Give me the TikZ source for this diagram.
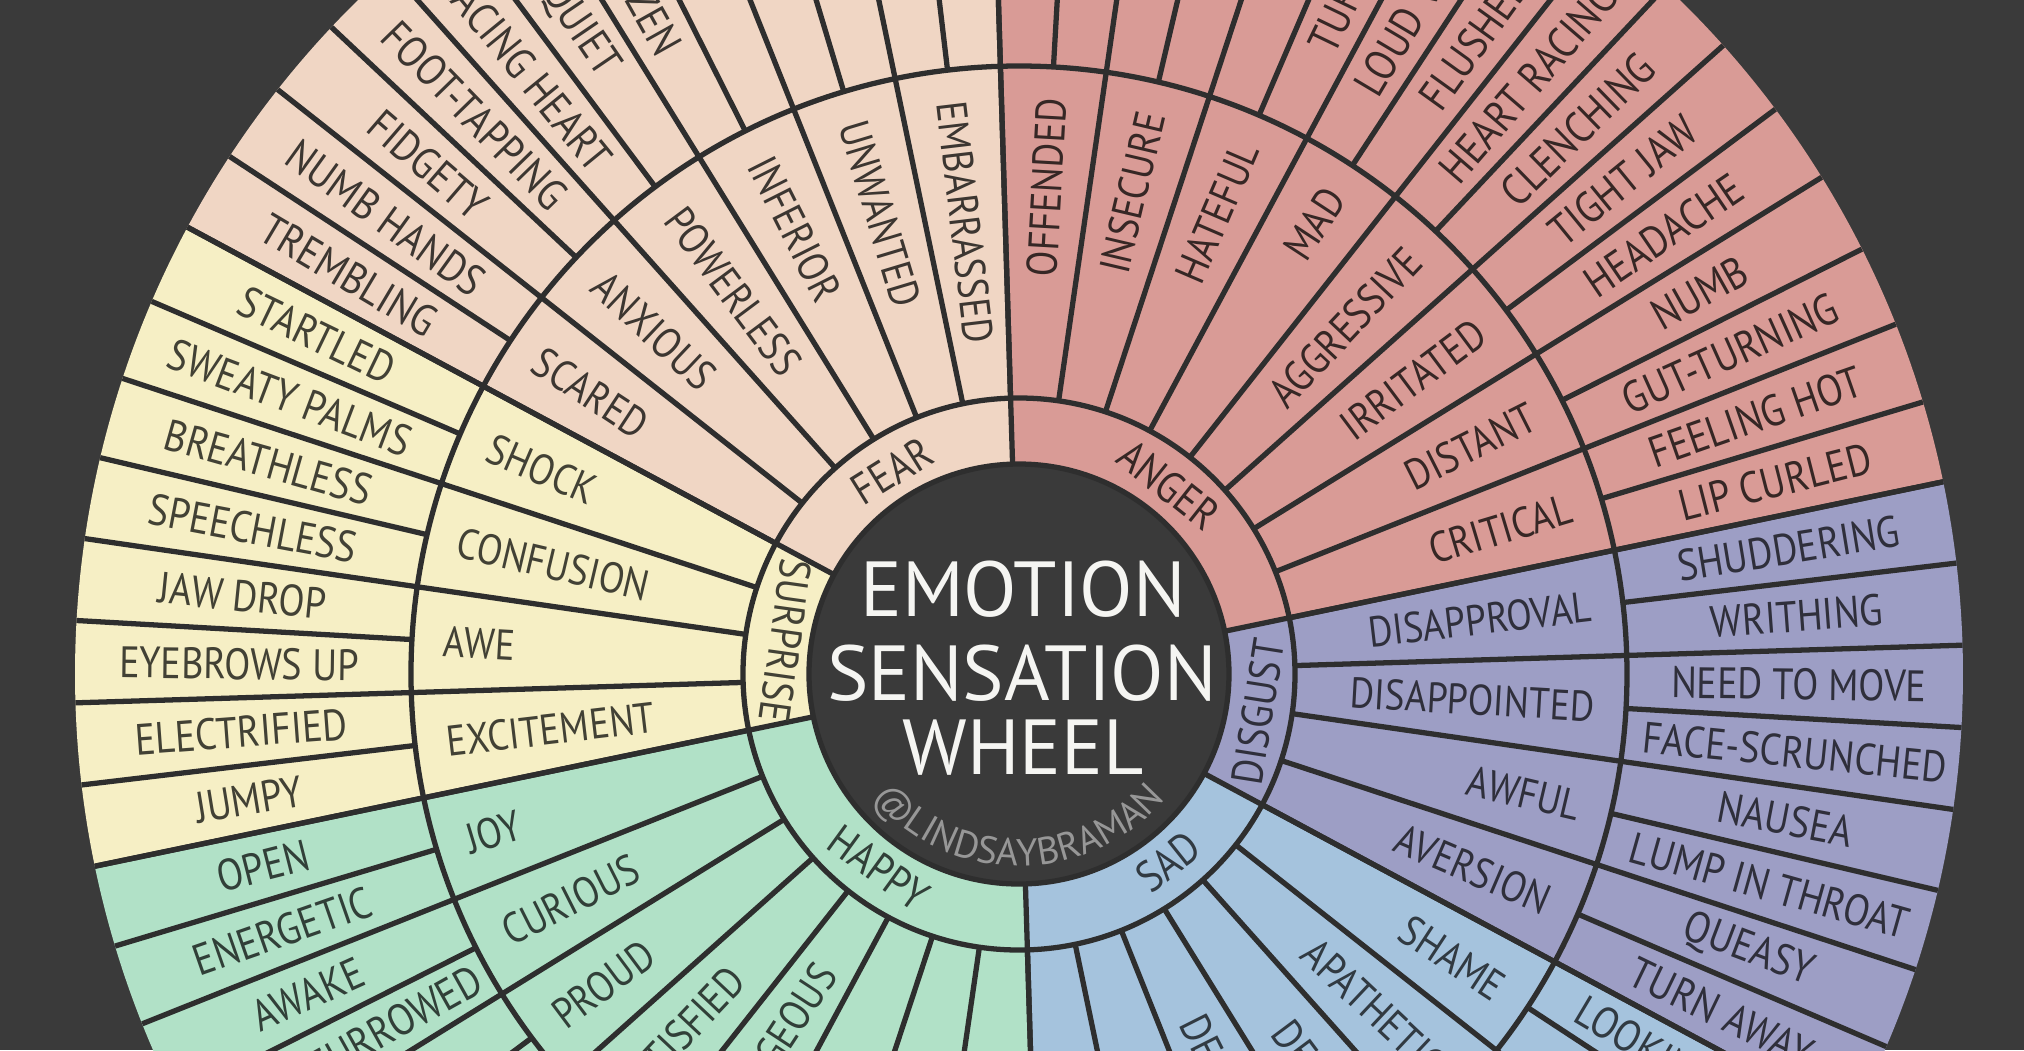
\documentclass[tikz,border=0pt]{standalone}
\usepackage{fontspec}
\setmainfont{PT Sans}
\newfontfamily\wheelfont[FakeStretch=0.87]{PT Sans}
\newfontfamily\titlefont{PT Sans}
\usetikzlibrary{decorations.text}
\definecolor{bgdark}{HTML}{3A3A3A}
\definecolor{linec}{HTML}{2E2E2E}
\definecolor{fearc}{HTML}{F0D6C4}
\definecolor{angerc}{HTML}{D99B96}
\definecolor{disgc}{HTML}{9D9EC5}
\definecolor{sadc}{HTML}{A5C3DD}
\definecolor{happyc}{HTML}{B1E1C7}
\definecolor{surpc}{HTML}{F6EFC5}
\definecolor{titlec}{HTML}{F5F5F2}
\definecolor{handlec}{HTML}{979797}
\colorlet{fearT}{fearc!25!black}
\colorlet{angerT}{angerc!25!black}
\colorlet{disgT}{disgc!30!black}
\colorlet{sadT}{sadc!30!black}
\colorlet{happyT}{happyc!28!black}
\colorlet{surpT}{surpc!27!black}
\tikzset{
  sep/.style={draw=linec, line width=1.5pt},
  otext/.style={inner sep=0pt, font=\wheelfont\fontsize{12.5}{13}\selectfont},
  stext/.style={inner sep=0pt, font=\wheelfont\fontsize{12.2}{13}\selectfont},
  ctext/.style={inner sep=0pt, font=\wheelfont\fontsize{12.5}{13}\selectfont},
  titletext/.style={inner sep=0pt, text=titlec, font=\titlefont\fontsize{22.2}{23}\selectfont},
}
% outer ring label: name, colour, angle, text
\newcommand\otxt[4]{%
  \pgfmathtruncatemacro\myside{cos(#3)>=0 ? 1 : 0}%
  \ifnum\myside=1 \pgfmathsetmacro\myrot{#3}\else\pgfmathsetmacro\myrot{#3-180}\fi
  \node[otext, text=#2, rotate=\myrot] (#1) at (#3:780) {#4};}
% secondary ring label: name, colour, angle, text (outer end at r=575)
\newcommand\stxt[4]{%
  \pgfmathtruncatemacro\myside{cos(#3)>=0 ? 1 : 0}%
  \ifnum\myside=1
    \node[stext, text=#2, rotate=#3, anchor=east] (#1) at (#3:577) {#4};
  \else
    \pgfmathsetmacro\myrot{#3-180}%
    \node[stext, text=#2, rotate=\myrot, anchor=west] (#1) at (#3:577) {#4};
  \fi}
\begin{document}
\begin{tikzpicture}[x=0.01cm,y=0.01cm]
\def\RA{210}\def\RB{276}\def\RC{608}\def\RD{944}
\fill[bgdark] (-1019,-376) rectangle (1005,674);
\useasboundingbox (-1019,-376) rectangle (1005,674);
\clip (-1019,-376) rectangle (1005,674);
% coloured sectors
\foreach \a/\b/\c in {11.75/91.75/angerc, 91.75/151.75/fearc, 151.75/191.75/surpc,
  191.75/271.75/happyc, 271.75/331.75/sadc, 331.75/371.75/disgc}{
  \fill[\c] (\a:\RA) -- (\a:\RD) arc[start angle=\a, end angle=\b, radius=\RD]
    -- (\b:\RA) arc[start angle=\b, end angle=\a, radius=\RA] -- cycle;
}
% rings
\draw[sep] (0,0) circle[radius=\RB];
\draw[sep] (0,0) circle[radius=\RC];
% outer-ring dividers
\foreach \k in {0,...,35}{
  \pgfmathsetmacro\ang{6.75+10*\k}
  \draw[sep] (\ang:\RC) -- (\ang:\RD);
}
% secondary dividers
\foreach \k in {0,...,35}{
  \pgfmathsetmacro\ang{1.75+10*\k}
  \draw[sep] (\ang:\RB) -- (\ang:\RD);
}
% core dividers
\foreach \a in {11.75,91.75,151.75,191.75,271.75,331.75}{
  \draw[sep] (\a:\RA) -- (\a:\RD);
}
% centre disc
\fill[bgdark] (0,0) circle[radius=\RA];
\draw[sep] (0,0) circle[radius=\RA];

% core labels
\node[ctext, text=fearT, rotate=32] (cfear) at (122:240) {FEAR};
\node[ctext, text=angerT, rotate=-38.4] (canger) at (51.6:241) {ANGER};
\node[ctext, text=disgT, rotate=81] (cdisg) at (-9:242) {DISGUST};
\node[ctext, text=sadT, rotate=38.5] (csad) at (-51.5:240) {SAD};
\node[ctext, text=happyT, rotate=-36] (chappy) at (234:239) {HAPPY};
\node[ctext, text=surpT, rotate=-98] (csurp) at (172:236) {SURPRISE};

% secondary labels
\stxt{s1}{fearT}{96.75}{EMBARRASSED}
\stxt{s2}{fearT}{106.75}{UNWANTED}
\stxt{s3}{fearT}{116.75}{INFERIOR}
\stxt{s4}{fearT}{126.75}{POWERLESS}
\stxt{s5}{fearT}{136.75}{ANXIOUS}
\stxt{s6}{fearT}{146.75}{SCARED}
\stxt{s7}{surpT}{156.75}{SHOCK}
\stxt{s8}{surpT}{166.75}{CONFUSION}
\stxt{s9}{surpT}{176.75}{AWE}
\stxt{s10}{surpT}{186.75}{EXCITEMENT}
\stxt{s11}{happyT}{196.75}{JOY}
\stxt{s12}{happyT}{206.75}{CURIOUS}
\stxt{s13}{happyT}{216.75}{PROUD}
\stxt{s14}{happyT}{226.75}{SATISFIED}
\stxt{s15}{happyT}{236.75}{COURAGEOUS}
\stxt{s16}{sadT}{296.75}{DEPRESSED}
\stxt{s17}{sadT}{306.75}{DESPAIR}
\stxt{s18}{sadT}{316.75}{APATHETIC}
\stxt{s19}{sadT}{326.75}{SHAME}
\stxt{s20}{disgT}{336.75}{AVERSION}
\stxt{s21}{disgT}{346.75}{AWFUL}
\stxt{s22}{disgT}{356.75}{DISAPPOINTED}
\stxt{s23}{disgT}{6.75}{DISAPPROVAL}
\stxt{s24}{angerT}{16.75}{CRITICAL}
\stxt{s25}{angerT}{26.75}{DISTANT}
\stxt{s26}{angerT}{36.75}{IRRITATED}
\stxt{s27}{angerT}{46.75}{AGGRESSIVE}
\stxt{s28}{angerT}{56.75}{MAD}
\stxt{s29}{angerT}{66.75}{HATEFUL}
\stxt{s30}{angerT}{76.75}{INSECURE}
\stxt{s31}{angerT}{86.75}{OFFENDED}

% outer labels
\otxt{o1}{disgT}{9.25}{SHUDDERING}
\otxt{o2}{disgT}{4.25}{WRITHING}
\otxt{o3}{disgT}{-0.75}{NEED TO MOVE}
\otxt{o4}{disgT}{-5.75}{FACE-SCRUNCHED}
\otxt{o5}{disgT}{-10.75}{NAUSEA}
\otxt{o6}{disgT}{-15.75}{LUMP IN THROAT}
\otxt{o7}{disgT}{-20.75}{QUEASY}
\otxt{o8}{disgT}{-25.75}{TURN AWAY}
\otxt{o9}{sadT}{-30.75}{LOOKING AWAY}
\otxt{o10}{angerT}{14.25}{LIP CURLED}
\otxt{o11}{angerT}{19.25}{FEELING HOT}
\otxt{o12}{angerT}{24.25}{GUT-TURNING}
\otxt{o13}{angerT}{29.25}{NUMB}
\otxt{o14}{angerT}{34.25}{HEADACHE}
\otxt{o15}{angerT}{39.25}{TIGHT JAW}
\otxt{o16}{angerT}{44.25}{CLENCHING}
\otxt{o17}{angerT}{49.25}{HEART RACING}
\otxt{o18}{angerT}{54.25}{FLUSHED}
\otxt{o19}{angerT}{59.25}{LOUD VOICE}
\otxt{o20}{angerT}{64.25}{TURN RED}
\otxt{o21}{fearT}{119.25}{FROZEN}
\otxt{o22}{fearT}{124.25}{QUIET}
\otxt{o23}{fearT}{129.25}{RACING HEART}
\otxt{o24}{fearT}{134.25}{FOOT-TAPPING}
\otxt{o25}{fearT}{139.25}{FIDGETY}
\otxt{o26}{fearT}{144.25}{NUMB HANDS}
\otxt{o27}{fearT}{149.25}{TREMBLING}
\otxt{o28}{surpT}{154.25}{STARTLED}
\otxt{o29}{surpT}{159.25}{SWEATY PALMS}
\otxt{o30}{surpT}{164.25}{BREATHLESS}
\otxt{o31}{surpT}{169.25}{SPEECHLESS}
\otxt{o32}{surpT}{174.25}{JAW DROP}
\otxt{o33}{surpT}{179.25}{EYEBROWS UP}
\otxt{o34}{surpT}{184.25}{ELECTRIFIED}
\otxt{o35}{surpT}{189.25}{JUMPY}
\otxt{o36}{happyT}{194.25}{OPEN}
\otxt{o37}{happyT}{199.25}{ENERGETIC}
\otxt{o38}{happyT}{204.25}{AWAKE}
\otxt{o39}{happyT}{209.25}{BROWS FURROWED}

% title
\node[titletext] (t1) at (4,85) {EMOTION};
\node[titletext] (t2) at (3,1) {SENSATION};
\node[titletext] (t3) at (4,-74) {WHEEL};
\path[decorate, decoration={text along path, text align=center, text color=handlec,
  text={|\titlefont\fontsize{10.9}{11}\selectfont|@LINDSAYBRAMAN}}]
  (212:192) arc[start angle=212, end angle=328, radius=192];
\end{tikzpicture}
\end{document}
